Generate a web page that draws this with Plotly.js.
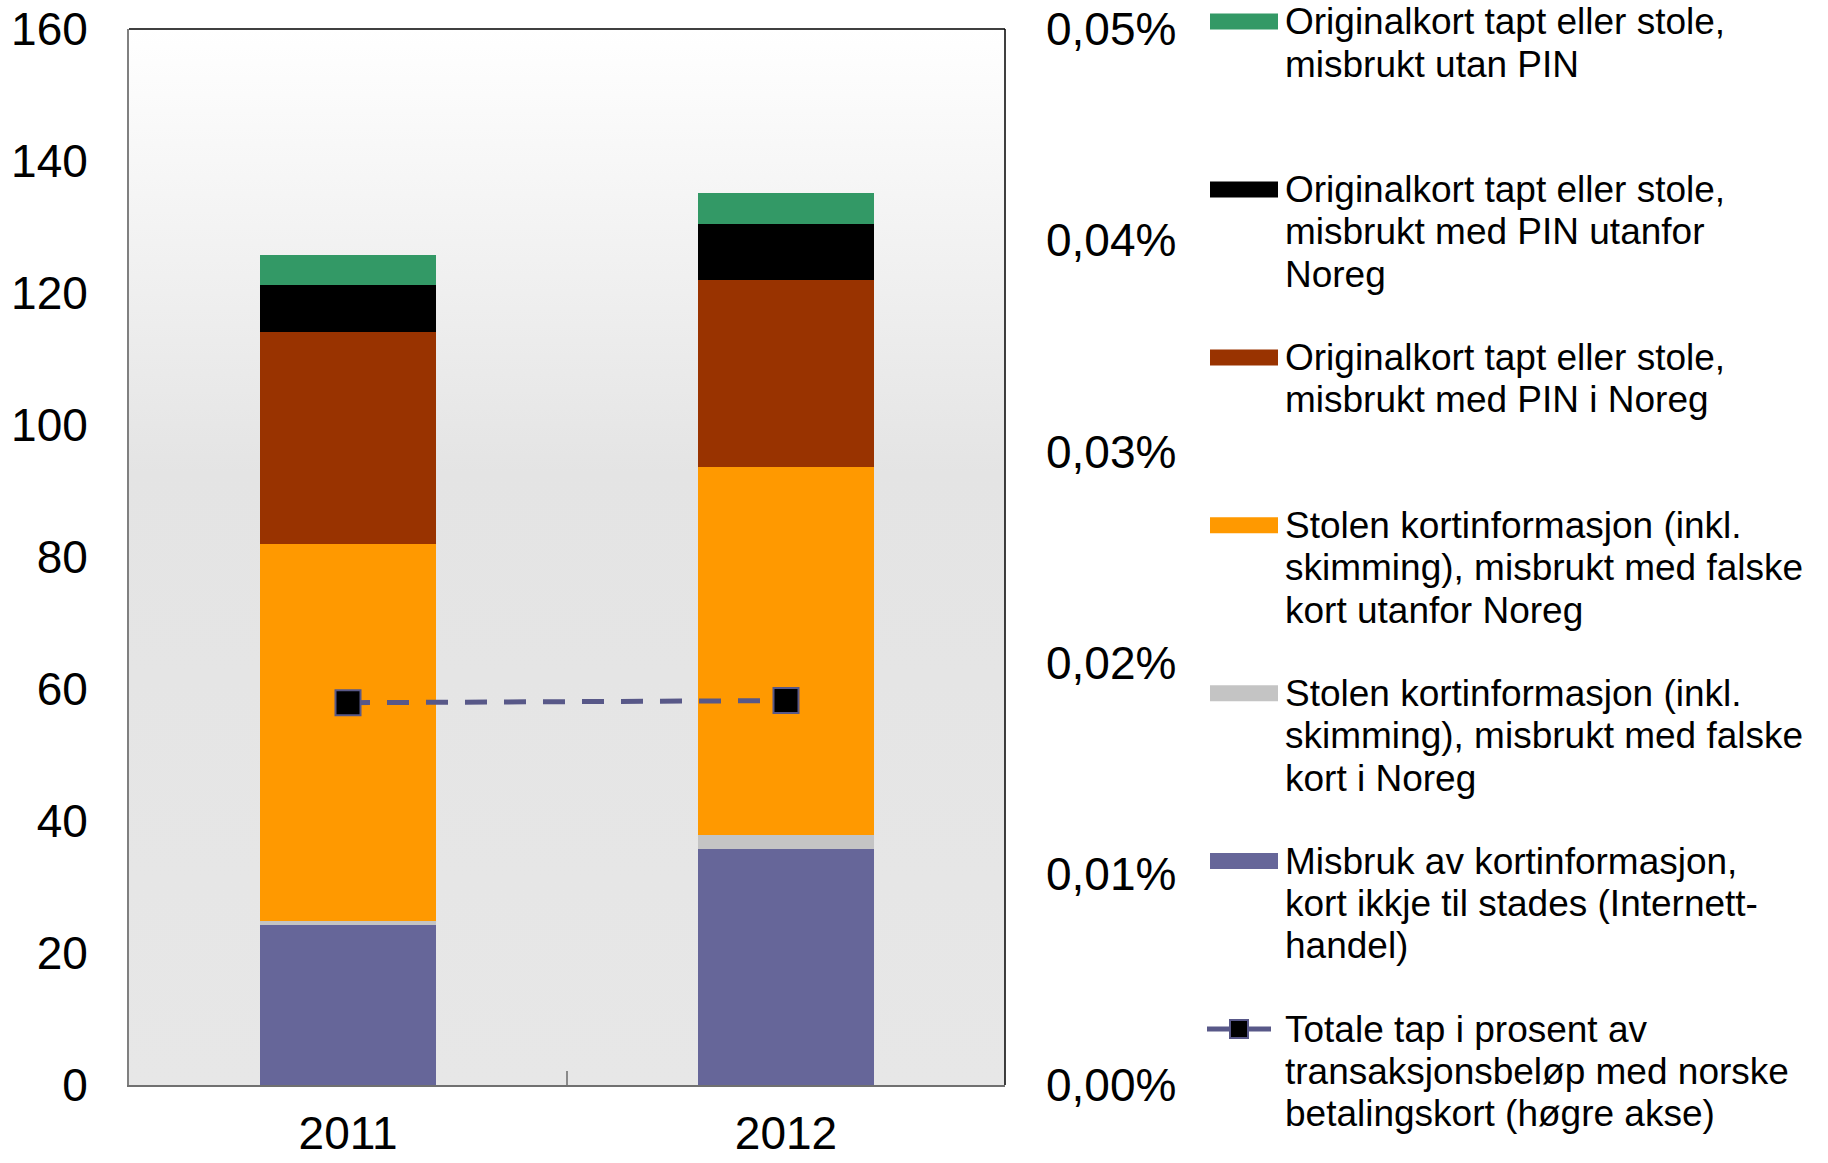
<!DOCTYPE html>
<html>
<head>
<meta charset="utf-8">
<script src="https://cdn.plot.ly/plotly-3.0.1.min.js"></script>
<style>
  html, body { margin: 0; padding: 0; background: #ffffff; }
  #chart { width: 1828px; height: 1163px; }
</style>
</head>
<body>
<div id="chart"></div>
<script>
// ---- data ----
const years = ['2011', '2012'];

const seriesNames = [
  'Misbruk av kortinformasjon,<br>kort ikkje til stades (Internett-<br>handel)',
  'Stolen kortinformasjon (inkl.<br>skimming), misbrukt med falske<br>kort i Noreg',
  'Stolen kortinformasjon (inkl.<br>skimming), misbrukt med falske<br>kort utanfor Noreg',
  'Originalkort tapt eller stole,<br>misbrukt med PIN i Noreg',
  'Originalkort tapt eller stole,<br>misbrukt med PIN utanfor<br>Noreg',
  'Originalkort tapt eller stole,<br>misbrukt utan PIN'
];
const seriesColors = ['#666699', '#c4c4c4', '#ff9900', '#993300', '#000000', '#339966'];

const internett   = [24.3, 35.7];
const falskeNoreg = [0.6, 2.2];
const falskeUtanfor = [57.0, 55.8];
const pinNoreg    = [32.2, 28.2];
const pinUtanfor  = [7.1, 8.5];
const utanPin     = [4.5, 4.7];
const seriesValues = [internett, falskeNoreg, falskeUtanfor, pinNoreg, pinUtanfor, utanPin];

const lineName = 'Totale tap i prosent av<br>transaksjonsbeløp med norske<br>betalingskort (høgre akse)';
const totalPct = [0.0181, 0.0182];   // percent, right axis

const leftTicks = [0, 20, 40, 60, 80, 100, 120, 140, 160];
const rightTicks = [0, 0.01, 0.02, 0.03, 0.04, 0.05];
const rightTickText = rightTicks.map(v => v.toFixed(2).replace('.', ',') + '%');

// ---- geometry (pixels) ----
const W = 1828, H = 1163;
const M = { l: 129, r: 823, t: 29, b: 78 };
const PW = W - M.l - M.r, PH = H - M.t - M.b;
const px2x = p => (p - M.l) / PW;
const py2y = p => (H - M.b - p) / PH;

const FONT = '"Liberation Sans", Arial, sans-serif';
const lineColor = '#585888';

// ---- traces ----
const traces = seriesValues.map((vals, i) => ({
  type: 'bar',
  x: years,
  y: vals,
  name: seriesNames[i].replace(/<br>/g, ' '),
  marker: { color: seriesColors[i], line: { width: 0 } },
  width: 0.4,
  showlegend: false,
  hovertemplate: '%{x}: %{y}<extra></extra>'
}));
traces.push({
  type: 'scatter',
  mode: 'lines+markers',
  x: years,
  y: totalPct,
  yaxis: 'y2',
  name: lineName.replace(/<br>/g, ' '),
  line: { color: lineColor, width: 5, dash: '22px,17px' },
  marker: { symbol: 'square', size: 25, color: '#000000', line: { color: lineColor, width: 2 } },
  showlegend: false
});

// ---- background gradient ----
const svgBg = "<svg xmlns='http://www.w3.org/2000/svg' width='100' height='100' preserveAspectRatio='none'>" +
  "<defs><linearGradient id='g' x1='0' y1='0' x2='0' y2='1'>" +
  "<stop offset='0' stop-color='#ffffff'/><stop offset='0.42' stop-color='#e4e4e4'/><stop offset='1' stop-color='#e7e7e7'/>" +
  "</linearGradient></defs><rect width='100' height='100' fill='url(#g)'/></svg>";
const bgSrc = 'data:image/svg+xml;charset=utf-8,' + encodeURIComponent(svgBg);

// ---- manual legend ----
const legendOrder = [5, 4, 3, 2, 1, 0]; // top to bottom
const legendTop = 21.6, legendStep = 167.9, lineStep = 42.4;
const swX0 = 1210, swX1 = 1278, textX = 1283;
const shapes = [
  { type: 'line', xref: 'paper', yref: 'paper', x0: 0, x1: 1, y0: 1, y1: 1, line: { color: '#000000', width: 1.5 } },
  { type: 'line', xref: 'paper', yref: 'paper', x0: 1, x1: 1, y0: 0, y1: 1, line: { color: '#000000', width: 1.5 } }
];
const annotations = [];
const legendItems = legendOrder.map(i => ({ label: seriesNames[i], color: seriesColors[i], kind: 'bar' }));
legendItems.push({ label: lineName, color: lineColor, kind: 'line' });

legendItems.forEach((it, k) => {
  const cy = legendTop + legendStep * k;
  if (it.kind === 'bar') {
    shapes.push({ type: 'rect', xref: 'paper', yref: 'paper',
      x0: px2x(swX0), x1: px2x(swX1), y0: py2y(cy - 8), y1: py2y(cy + 8),
      fillcolor: it.color, line: { width: 0 } });
  } else {
    shapes.push({ type: 'line', xref: 'paper', yref: 'paper',
      x0: px2x(1207), x1: px2x(1271), y0: py2y(cy), y1: py2y(cy),
      line: { color: it.color, width: 5 } });
    shapes.push({ type: 'rect', xref: 'paper', yref: 'paper',
      x0: px2x(1230), x1: px2x(1248), y0: py2y(cy - 9), y1: py2y(cy + 9),
      fillcolor: '#000000', line: { color: it.color, width: 2 } });
  }
  it.label.split('<br>').forEach((ln, j) => {
    annotations.push({
      xref: 'paper', yref: 'paper',
      x: px2x(textX), y: py2y(cy + lineStep * j),
      xanchor: 'left', yanchor: 'middle',
      text: ln, showarrow: false,
      font: { family: FONT, size: 37, color: '#000000' }
    });
  });
});

const layout = {
  width: W, height: H,
  margin: M,
  paper_bgcolor: '#ffffff',
  plot_bgcolor: 'rgba(0,0,0,0)',
  separators: ', ',
  barmode: 'stack',
  showlegend: false,
  font: { family: FONT, size: 46, color: '#000000' },
  images: [{ source: bgSrc, xref: 'paper', yref: 'paper', x: 0, y: 1, sizex: 1, sizey: 1,
             xanchor: 'left', yanchor: 'top', sizing: 'stretch', layer: 'below' }],
  xaxis: {
    type: 'category',
    range: [-0.5, 1.5],
    showline: true, linecolor: '#707070', linewidth: 2,
    ticks: 'inside', tickson: 'boundaries', ticklen: 14, tickwidth: 2, tickcolor: '#8a8a8a',
    showgrid: false, zeroline: false,
    tickfont: { family: FONT, size: 46, color: '#000000' },
    ticklabelstandoff: 7
  },
  yaxis: {
    range: [0, 160],
    tickvals: leftTicks,
    showline: true, linecolor: '#808080', linewidth: 2,
    ticks: '', showgrid: false, zeroline: false,
    tickfont: { family: FONT, size: 46, color: '#000000' },
    ticklabelstandoff: 30
  },
  yaxis2: {
    overlaying: 'y', side: 'right',
    range: [0, 0.05],
    tickmode: 'array',
    tickvals: rightTicks,
    ticktext: rightTickText,
    showline: false, ticks: '', showgrid: false, zeroline: false,
    tickfont: { family: FONT, size: 46, color: '#000000' },
    ticklabelstandoff: 40
  },
  shapes: shapes,
  annotations: annotations
};

Plotly.newPlot('chart', traces, layout, { displayModeBar: false, staticPlot: true });
</script>
</body>
</html>
